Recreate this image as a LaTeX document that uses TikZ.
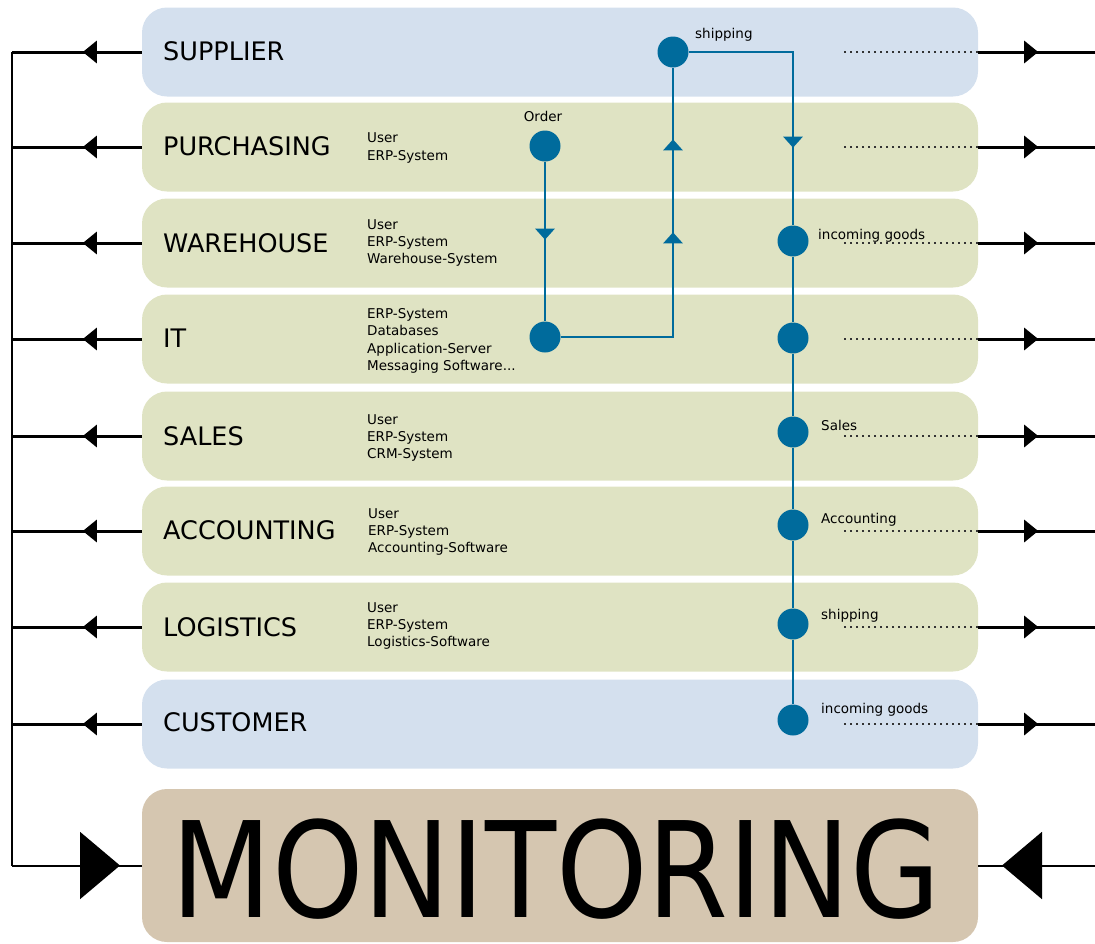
\documentclass[tikz,border=0pt]{standalone}
\usepackage{fontspec}
\setmainfont{DejaVu Sans}
\usetikzlibrary{arrows.meta,decorations.markings}
\definecolor{boxblue}{HTML}{D4E0EE}
\definecolor{boxgreen}{HTML}{DFE3C3}
\definecolor{boxtan}{HTML}{D5C6B0}
\definecolor{flowblue}{HTML}{006B9C}
\definecolor{dotgray}{HTML}{333333}
\tikzset{
  lane/.style={rounded corners=25pt, minimum width=836pt, minimum height=89pt, inner sep=0pt, draw=none},
  dept/.style={anchor=base west, inner sep=0pt, font=\fontsize{25.5}{30}\selectfont},
  info/.style={anchor=west, align=left, inner sep=0pt, font=\fontsize{13.5}{17.3}\selectfont},
  evlabel/.style={anchor=base west, inner sep=0pt, font=\fontsize{13.5}{16}\selectfont},
  event/.style={circle, fill=flowblue, minimum size=31pt, inner sep=0pt},
  flow/.style={flowblue, line width=2.5pt},
  dots/.style={dotgray, line width=2pt, dash pattern=on 2pt off 4pt},
  outline/.style={black, line width=3pt},
  busline/.style={black, line width=2pt},
  markarrow/.style={postaction={decorate,decoration={markings,mark=at position #1 with {\arrow{Triangle[width=22pt,length=14pt]}}}}},
  flowarrow/.style={postaction={decorate,decoration={markings,mark=at position #1 with {\arrow{Triangle[width=19pt,length=11pt]}}}}},
  bigarrow/.style={postaction={decorate,decoration={markings,mark=at position #1 with {\arrow{Triangle[width=67pt,length=40pt]}}}}}
}
\begin{document}
\begin{tikzpicture}[x=1pt,y=-1pt]
\useasboundingbox (0,0) rectangle (1095,943);
% lanes
\node[lane, fill=boxblue]  (sup) at (560,52)  {};
\node[lane, fill=boxgreen] (pur) at (560,147) {};
\node[lane, fill=boxgreen] (war) at (560,243) {};
\node[lane, fill=boxgreen] (it)  at (560,339) {};
\node[lane, fill=boxgreen] (sal) at (560,436) {};
\node[lane, fill=boxgreen] (acc) at (560,531) {};
\node[lane, fill=boxgreen] (log) at (560,627) {};
\node[lane, fill=boxblue]  (cus) at (560,724) {};
\node[lane, fill=boxtan, minimum height=153pt] (mon) at (560,865.5) {};
\coordinate (busL) at (12,0);
\coordinate (busR) at (1095,0);
% department names
\node[dept] (tsup) at (163,60.5)  {SUPPLIER};
\node[dept] (tpur) at (163,155.5) {PURCHASING};
\node[dept] (twar) at (163,252.5) {WAREHOUSE};
\node[dept] (tit)  at (163,347.5) {IT};
\node[dept] (tsal) at (163,445.5) {SALES};
\node[dept] (tacc) at (163,539.5) {ACCOUNTING};
\node[dept] (tlog) at (163,636.5) {LOGISTICS};
\node[dept] (tcus) at (163,731.5) {CUSTOMER};
\node[anchor=base, inner sep=0pt] (tmon) at (556,917) {\scalebox{0.875}[1]{\fontsize{133}{133}\selectfont MONITORING}};
% info texts
\node[info] (ipur) at (367,148) {User\\ERP-System};
\node[info] (iwar) at (367,243) {User\\ERP-System\\Warehouse-System};
\node[info] (iit)  at (367,341) {ERP-System\\Databases\\Application-Server\\Messaging Software...};
\node[info] (isal) at (367,438) {User\\ERP-System\\CRM-System};
\node[info] (iacc) at (368,532) {User\\ERP-System\\Accounting-Software};
\node[info] (ilog) at (367,626) {User\\ERP-System\\Logistics-Software};
% dotted lines
\foreach \r in {sup,pur,war,it,sal,acc,log,cus}{
  \draw[dots] (\r.east) -- ([xshift=-135pt]\r.east);
}
% left and right arrows
\foreach \r in {sup,pur,war,it,sal,acc,log,cus}{
  \draw[outline, markarrow=59pt] (\r.west) -- (\r.west -| busL);
  \draw[outline, markarrow=60pt] (\r.east) -- (\r.east -| busR);
}
\draw[busline] (sup.west -| busL) -- (mon.west -| busL);
\draw[busline, bigarrow=108pt] (mon.west -| busL) -- (mon.west);
\draw[busline, bigarrow=93pt] (mon.east -| busR) -- (mon.east);
% events
\node[event] (ord) at (545,146) {};
\node[event] (itL) at (545,337) {};
\node[event] (shp) at (673,52)  {};
\node[event] (inW) at (793,241) {};
\node[event] (itR) at (793,338) {};
\node[event] (sl)  at (793,432) {};
\node[event] (ac)  at (793,525) {};
\node[event] (lg)  at (793,624) {};
\node[event] (cu)  at (793,720) {};
% event labels
\node[anchor=base, inner sep=0pt, font=\fontsize{13.5}{16}\selectfont] (lord) at (543,121) {Order};
\node[evlabel] (lshp) at (695,38)  {shipping};
\node[evlabel] (linw) at (818,239) {incoming goods};
\node[evlabel] (lsl)  at (821,430) {Sales};
\node[evlabel] (lac)  at (821,523) {Accounting};
\node[evlabel] (llg)  at (821,619) {shipping};
\node[evlabel] (lcu)  at (821,713) {incoming goods};
% flows
\draw[flow, flowarrow=78pt] (ord) -- (itL);
\draw[flow, flowarrow=217pt, flowarrow=310pt] (itL) -| (shp);
\draw[flow, flowarrow=200pt] (shp) -| (inW);
\draw[flow] (inW) -- (itR) -- (sl) -- (ac) -- (lg) -- (cu);
\end{tikzpicture}
\end{document}
